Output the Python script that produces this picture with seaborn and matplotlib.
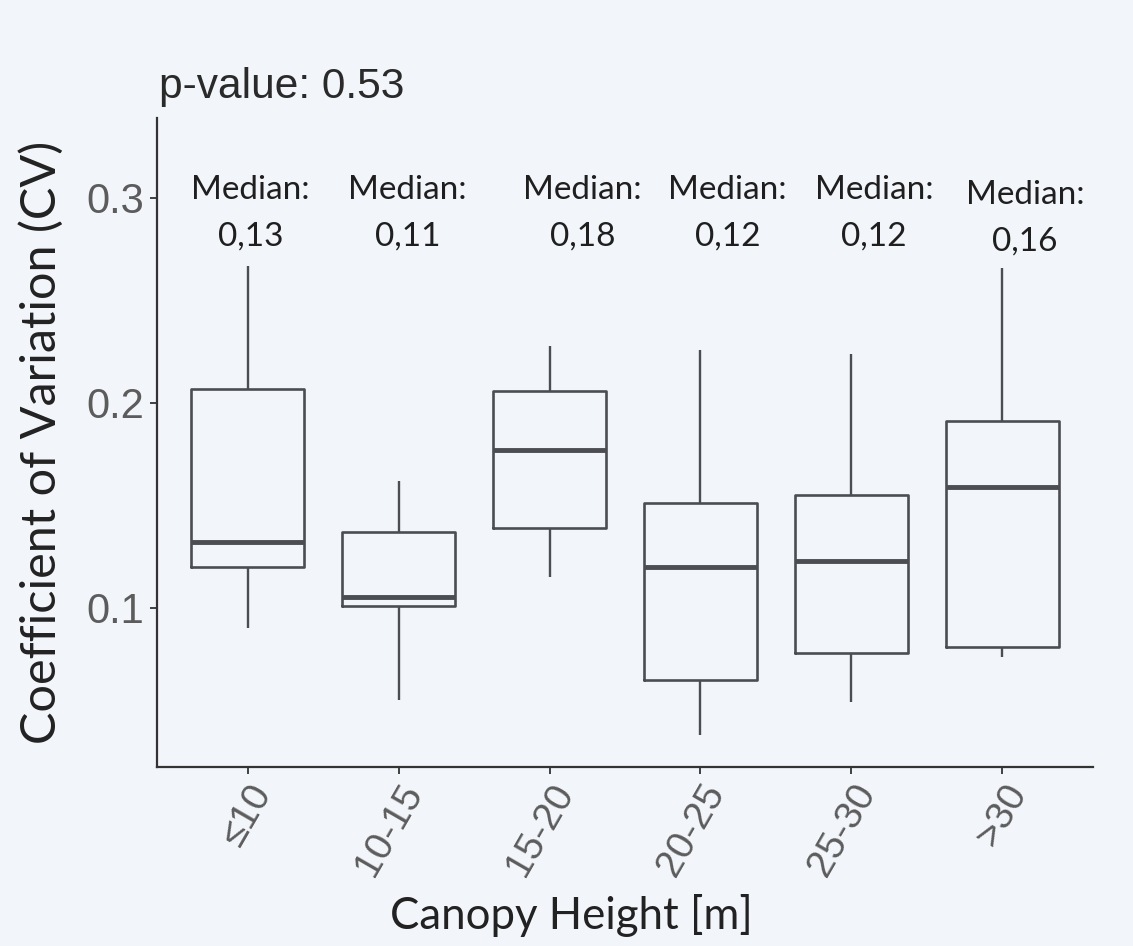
import numpy as np
import pandas as pd
import seaborn as sns
import matplotlib
matplotlib.use("Agg")
import matplotlib.pyplot as plt
from matplotlib.patches import Rectangle

# ---- data ----
categories = ["≤10", "10-15", "15-20", "20-25", "25-30", ">30"]
whisker_low = [0.090, 0.055, 0.115, 0.038, 0.054, 0.076]
q1 = [0.120, 0.101, 0.139, 0.065, 0.078, 0.081]
median = [0.132, 0.1055, 0.177, 0.120, 0.123, 0.159]
q3 = [0.207, 0.137, 0.206, 0.151, 0.155, 0.191]
whisker_high = [0.267, 0.162, 0.228, 0.226, 0.224, 0.266]
median_labels = ["0,13", "0,11", "0,18", "0,12", "0,12", "0,16"]
p_value_text = "p-value: 0.53"

# layout: label x offsets (in category units) and y positions
label_dx = [0.02, 0.06, 0.22, 0.18, 0.15, 0.15]
label_y = [0.2927, 0.2927, 0.2927, 0.2927, 0.2927, 0.2902]

rows = []
for c, a, b, m, d, e in zip(categories, whisker_low, q1, median, q3, whisker_high):
    for v in (a, b, m, d, e):
        rows.append({"height": c, "cv": v})
df = pd.DataFrame(rows)

BG = "#f2f5fa"
LINE = "#4b4d52"
ARIAL = ["Liberation Sans", "DejaVu Sans"]

sns.set_theme(style="ticks")
plt.rcParams["font.family"] = ARIAL

fig = plt.figure(figsize=(11.33, 9.46), dpi=100, facecolor=BG)
ax = fig.add_axes([157 / 1133, 1 - 767 / 946, (1093 - 157) / 1133, (767 - 118) / 946])
ax.set_facecolor(BG)

sns.boxplot(data=df, x="height", y="cv", order=categories, ax=ax,
            width=0.75, fill=False, color=LINE, whis=np.inf, showcaps=False,
            linewidth=1.9,
            medianprops={"linewidth": 3.5, "color": LINE},
            boxprops={"linewidth": 1.9, "color": LINE},
            whiskerprops={"linewidth": 1.7, "color": LINE})

ax.set_xlim(-0.6, 5.6)
ax.set_ylim(0.0224, 0.339)
ax.set_yticks([0.1, 0.2, 0.3])
ax.set_yticklabels(["0.1", "0.2", "0.3"])
ax.set_xlabel("")
ax.set_ylabel("")
for s in ("top", "right"):
    ax.spines[s].set_visible(False)
for s in ("left", "bottom"):
    ax.spines[s].set_color("#333333")
    ax.spines[s].set_linewidth(1.6)
ax.tick_params(axis="both", colors="#333333", length=5, width=1.3,
               labelcolor="#5c5c5c", pad=4)
ax.tick_params(axis="y", labelsize=30)
ax.tick_params(axis="x", labelsize=28, pad=3)
plt.setp(ax.get_xticklabels(), rotation=60, ha="right", va="top",
         rotation_mode="anchor", family=ARIAL)
plt.setp(ax.get_yticklabels(), family=ARIAL)

# median annotations
for i, lab in enumerate(median_labels):
    ax.text(i + label_dx[i], label_y[i], "Median:\n" + lab, ha="center", va="center",
            fontsize=24, family=["Lato", "DejaVu Sans"], color="#1f1f1f",
            linespacing=1.68)

# crop of the bottom of the tick labels (as in the reference)
fig.patches.append(Rectangle((0, 0), 1, 1 - 880 / 946, transform=fig.transFigure,
                             facecolor=BG, edgecolor="none", zorder=5))

fig.text(159 / 1133, 1 - 98 / 946, p_value_text, ha="left", va="baseline",
         fontsize=30.6, color="#2a2a2a", family=ARIAL)
fig.text(571 / 1133, 1 - 915 / 946, "Canopy Height [m]", ha="center", va="center",
         fontsize=31.5, color="#222222", family=["Lato", "DejaVu Sans"], zorder=6)
fig.text(41 / 1133, 1 - 442 / 946, "Coefficient of Variation (CV)", ha="center",
         va="center", rotation=90, fontsize=35, color="#222222",
         family=["Lato", "DejaVu Sans"], zorder=6)

fig.savefig("out.png", dpi=100, facecolor=BG)
